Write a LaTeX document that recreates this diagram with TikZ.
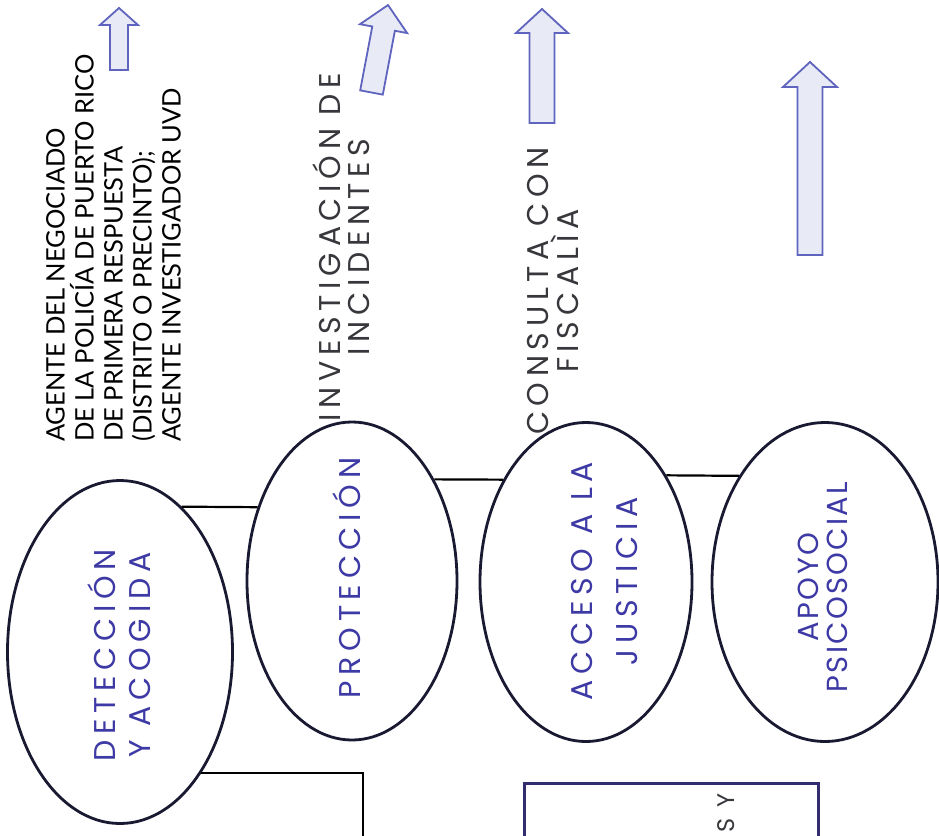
\documentclass[tikz,border=0pt]{standalone}
\usepackage{fontspec}
\setmainfont{Lato}
\newfontfamily\spacedfont[LetterSpace=19]{Poppins}
\newfontfamily\tightfont[LetterSpace=8]{Poppins}
\usetikzlibrary{shapes.geometric}
\definecolor{ink}{RGB}{25,25,50}
\definecolor{stagecol}{RGB}{62,58,165}
\definecolor{graytext}{RGB}{55,55,60}
\definecolor{arrowline}{RGB}{95,100,190}
\definecolor{arrowfill}{RGB}{232,234,246}
\definecolor{boxline}{RGB}{50,45,110}
\begin{document}
\begin{tikzpicture}[x=1pt,y=-1pt,
  stage/.style={draw=ink, line width=2.8pt, ellipse, inner sep=0pt},
  stagetext/.style={rotate=90, text=stagecol, align=center, inner sep=0pt},
  sidetext/.style={rotate=90, text=graytext, align=center, inner sep=0pt},
  link/.style={draw=black, line width=2.2pt},
  blockarrow/.style={draw=arrowline, fill=arrowfill, line width=1.8pt, line join=miter}]
\useasboundingbox (0,0) rectangle (939,835);
\clip (0,0) rectangle (939,835);
\fill[white] (0,0) rectangle (939,835);

% ellipses
\node[stage, minimum width=225pt, minimum height=343pt] (det) at (120,652) {};
\node[stage, minimum width=210pt, minimum height=318pt] (prot) at (352,581) {};
\node[stage, minimum width=212pt, minimum height=319pt] (acc) at (586,582) {};
\node[stage, minimum width=226pt, minimum height=319pt] (apoyo) at (825,582) {};

% ellipse texts
\node[stagetext, font=\spacedfont\fontsize{30}{35}\selectfont] (detlabel) at (119.5,655) {DETECCIÓN\\Y ACOGIDA};
\node[stagetext, font=\spacedfont\fontsize{30}{35}\selectfont] (protlabel) at (347,578) {PROTECCIÓN};
\node[stagetext, font=\spacedfont\fontsize{30}{45}\selectfont] (acclabel) at (604.5,581) {ACCESO A LA\\JUSTICIA};
\node[stagetext, font=\tightfont\fontsize{29}{29}\selectfont] (apoyolabel) at (822.5,587) {APOYO\\PSICOSOCIAL};

% connectors
\draw[link] (det.67) -- (prot.142);
\draw[link] (prot.51) -- (acc.129);
\draw[link] (acc.53) -- (apoyo.129);
\coordinate (down) at (363,850);
\draw[link] (det.-56) -| (down);

% upper texts
\node[rotate=90, anchor=west, align=left, inner sep=0pt, text=black,
      font=\fontsize{25.5}{29}\selectfont] (agente) at (113.5,442)
  {AGENTE DEL NEGOCIADO\\DE LA POLICÍA DE PUERTO RICO\\DE PRIMERA RESPUESTA\\(DISTRITO O PRECINTO);\\AGENTE INVESTIGADOR UVD};
\node[sidetext, font=\spacedfont\fontsize{30}{29}\selectfont] (invest) at (341.5,247) {INVESTIGACIÓN DE\\INCIDENTES};
\node[sidetext, font=\spacedfont\fontsize{30}{28}\selectfont] (consulta) at (553,291) {CONSULTA CON\\FISCALÌA};

% block arrows
\draw[blockarrow] (110,70) -- (110,25) -- (100,25) -- (119,8) -- (138,25) -- (128,25) -- (128,70) -- cycle;
\begin{scope}[shift={(371.5,92.5)}, rotate=-10.7]
\draw[blockarrow] (-11.5,0) -- (-11.5,-65) -- (-24,-65) -- (0,-89) -- (24,-65) -- (11.5,-65) -- (11.5,0) -- cycle;
\end{scope}
\draw[blockarrow] (529.5,123) -- (529.5,33) -- (516,33) -- (542,9) -- (568,33) -- (554.5,33) -- (554.5,123) -- cycle;
\draw[blockarrow] (797.5,255) -- (797.5,87) -- (783,87) -- (810,62) -- (837,87) -- (822.5,87) -- (822.5,255) -- cycle;

% bottom box (cut by the page edge)
\node[draw=boxline, line width=2.6pt, minimum width=294pt, minimum height=120pt, anchor=north west, inner sep=0pt] (box) at (523,782) {};
\node[rotate=90, anchor=west, inner sep=0pt, text=graytext, font=\spacedfont\fontsize{24}{28}\selectfont] (boxtext) at (726,833) {S Y};
\end{tikzpicture}
\end{document}
